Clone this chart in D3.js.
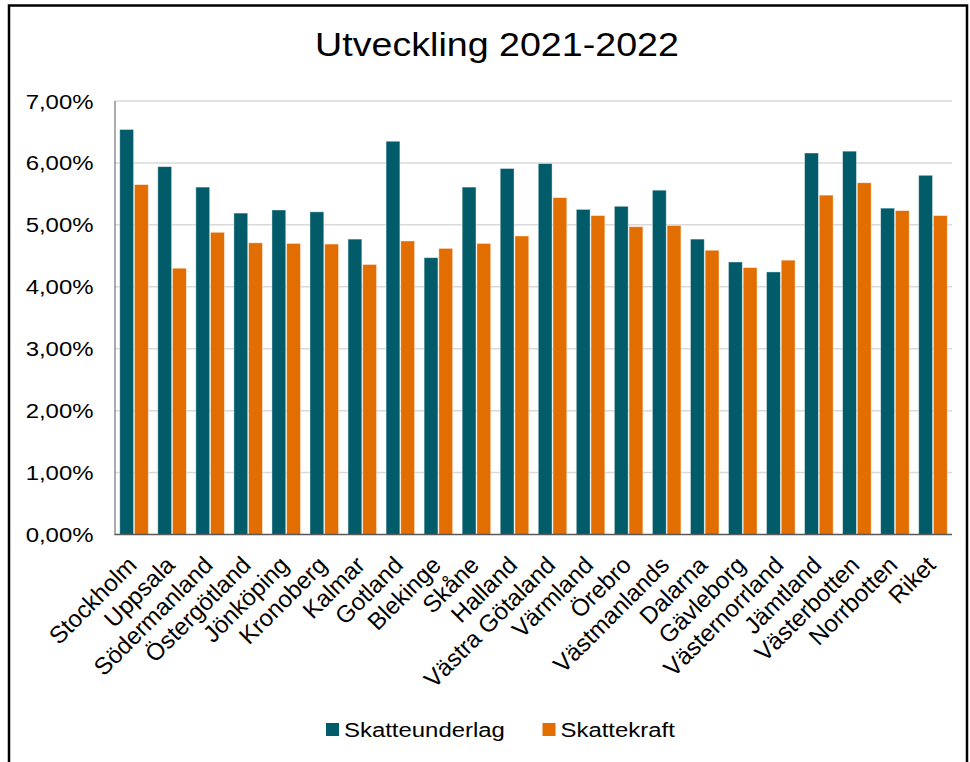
<!DOCTYPE html>
<html><head><meta charset="utf-8">
<script src="https://cdn.jsdelivr.net/npm/d3@7"></script>
<style>
html,body{margin:0;padding:0;background:#fff;}
svg{display:block;font-family:"Liberation Sans",Arial,sans-serif;}
</style></head>
<body>
<svg id="chart" width="970" height="762"></svg>
<script>
const categories = ["Stockholm","Uppsala","Södermanland","Östergötland","Jönköping","Kronoberg","Kalmar","Gotland","Blekinge","Skåne","Halland","Västra Götaland","Värmland","Örebro","Västmanlands","Dalarna","Gävleborg","Västernorrland","Jämtland","Västerbotten","Norrbotten","Riket"];
const skatteunderlag = [6.54,5.94,5.61,5.19,5.24,5.21,4.77,6.35,4.47,5.61,5.91,5.99,5.25,5.30,5.56,4.77,4.40,4.24,6.16,6.19,5.27,5.80];
const skattekraft   = [5.65,4.30,4.88,4.71,4.70,4.69,4.36,4.74,4.62,4.70,4.82,5.44,5.15,4.97,4.99,4.59,4.31,4.43,5.48,5.68,5.23,5.15];
const seriesNames = ["Skatteunderlag","Skattekraft"];
const seriesColors = ["#015B69","#E26D00"];
const yTicks = [0,1,2,3,4,5,6,7];
const title = "Utveckling 2021-2022";

const svg = d3.select("#chart");
const SX = 1.14;
const pLeft = 115, pRight = 952, pTop = 101, pBottom = 534.5;

// frame
svg.append("path").attr("d","M9,763 L9,5.5 L967,5.5 L967,763")
  .attr("fill","none").attr("stroke","#000").attr("stroke-width",2.5);

const x = d3.scaleBand().domain(categories).range([pLeft,pRight]).paddingInner(0.25).paddingOuter(0.125);
const xs = d3.scaleBand().domain(seriesNames).range([0,x.bandwidth()]).paddingInner(0.06);
const y = d3.scaleLinear().domain([0,7]).range([pBottom,pTop]);

// gridlines
svg.append("g").selectAll("line").data(yTicks.filter(d=>d>0)).join("line")
  .attr("x1",pLeft).attr("x2",pRight).attr("y1",d=>y(d)).attr("y2",d=>y(d))
  .attr("stroke","#d9d9d9").attr("stroke-width",1.5);

// bars
const data = categories.map((c,i)=>({c, vals:[skatteunderlag[i],skattekraft[i]]}));
const groups = svg.append("g").selectAll("g").data(data).join("g")
  .attr("transform",d=>`translate(${x(d.c)},0)`);
groups.selectAll("rect").data(d=>d.vals.map((v,j)=>({v,s:seriesNames[j],j}))).join("rect")
  .attr("x",d=>xs(d.s)).attr("width",xs.bandwidth())
  .attr("y",d=>y(d.v)).attr("height",d=>y(0)-y(d.v))
  .attr("fill",d=>seriesColors[d.j])
  .attr("stroke","#ffffff").attr("stroke-opacity",0.5).attr("stroke-width",0.8);

// axes lines
svg.append("line").attr("x1",pLeft).attr("x2",pLeft).attr("y1",pTop).attr("y2",pBottom)
  .attr("stroke","#595959").attr("stroke-width",1);
svg.append("line").attr("x1",pLeft-0.5).attr("x2",pRight).attr("y1",pBottom).attr("y2",pBottom)
  .attr("stroke","#595959").attr("stroke-width",1.5);

// y tick labels
const fmt = v => v.toFixed(2).replace(".",",")+"%";
svg.append("g").selectAll("text").data(yTicks).join("text")
  .attr("transform",d=>`translate(93.5,${y(d)}) scale(${SX},1)`)
  .attr("dy","0.36em").attr("text-anchor","end")
  .attr("font-size",21).attr("fill","#000").text(fmt);

// x labels
svg.append("g").selectAll("text").data(categories).join("text")
  .attr("transform",d=>`translate(${x(d)+x.bandwidth()/2-2},${pBottom+26}) rotate(-45)`)
  .attr("dy","0.36em").attr("text-anchor","end")
  .attr("font-size",24).attr("fill","#000").text(d=>d);

// title
svg.append("text").attr("transform",`translate(497,56) scale(${SX},1)`)
  .attr("text-anchor","middle").attr("font-size",33).attr("fill","#000").text(title);

// legend
const legX = [326,542.5];
const leg = svg.append("g").selectAll("g").data(seriesNames).join("g")
  .attr("transform",(d,i)=>`translate(${legX[i]},0)`);
leg.append("rect").attr("x",0).attr("y",723).attr("width",13).attr("height",13)
  .attr("fill",(d,i)=>seriesColors[i]);
leg.append("text").attr("transform",`translate(18,736.5) scale(${SX},1)`)
  .attr("font-size",21).attr("fill","#000").text(d=>d);
</script>
</body></html>
